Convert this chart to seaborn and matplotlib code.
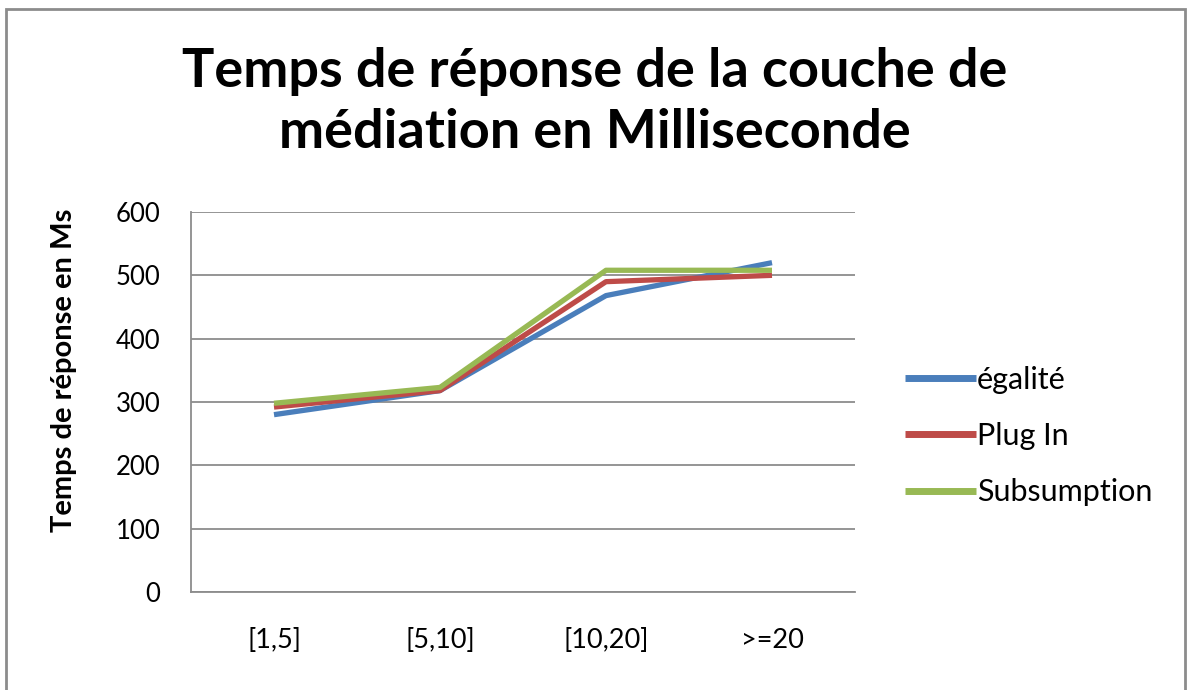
import matplotlib
matplotlib.use("Agg")
import matplotlib.pyplot as plt
from matplotlib.patches import Rectangle
import pandas as pd
import seaborn as sns

# Data
categories = ["[1,5]", "[5,10]", "[10,20]", ">=20"]
egalite = [280, 318, 468, 520]
plug_in = [292, 318, 490, 500]
subsumption = [298, 323, 508, 508]
series_names = ["égalité", "Plug In", "Subsumption"]
colors = ["#4A7EBB", "#BE4B48", "#98B954"]

rows = []
for name, vals in zip(series_names, [egalite, plug_in, subsumption]):
    for i, (cat, v) in enumerate(zip(categories, vals)):
        rows.append({"pos": i, "cat": cat, "value": v, "serie": name})
df = pd.DataFrame(rows)

sns.set_theme(style="white")
plt.rcParams["font.family"] = ["Lato", "DejaVu Sans"]
plt.rcParams["text.color"] = "black"
plt.rcParams["axes.labelcolor"] = "black"

W, H = 1187, 690
fig = plt.figure(figsize=(W / 100, H / 100), dpi=100)
fig.patch.set_facecolor("white")

# Plot area in pixel coordinates
left, right, top, bottom = 191, 855, 212, 592
ax = fig.add_axes([left / W, 1 - bottom / H, (right - left) / W, (bottom - top) / H])

sns.lineplot(data=df, x="pos", y="value", hue="serie", hue_order=series_names,
             palette=colors, linewidth=3.8, ax=ax, legend=True,
             solid_capstyle="butt")

ax.set_xlim(-0.5, len(categories) - 0.5)
ax.set_ylim(0, 600)
ax.set_yticks(range(0, 601, 100))
ax.set_xticks(range(len(categories)))
ax.set_xticklabels(categories)
ax.tick_params(axis="both", length=0, labelsize=18.5, colors="black")
ax.tick_params(axis="x", pad=26, labelsize=19.5)
ax.tick_params(axis="y", pad=22)

ax.grid(axis="y", color="#8C8C8C", linewidth=1.3)
ax.set_axisbelow(True)
for side in ["top", "right"]:
    ax.spines[side].set_visible(False)
for side in ["left", "bottom"]:
    ax.spines[side].set_color("#8C8C8C")
    ax.spines[side].set_linewidth(1.3)

ax.set_xlabel("")
ax.set_ylabel("Temps de réponse en Ms", fontsize=21, fontweight="bold", color="black")
ax.yaxis.set_label_coords(-0.172, 0.584)

# Legend to the right of the plot area
handles, labels = ax.get_legend_handles_labels()
for h in handles:
    h.set_linewidth(5)
leg = ax.legend(handles, labels, loc="center left", bbox_to_anchor=(890 / W, 1 - 436 / H),
                bbox_transform=fig.transFigure, frameon=False, fontsize=22,
                handlelength=2.3, handletextpad=0.05, labelspacing=0.93, borderpad=0)
for t in leg.get_texts():
    t.set_color("black")

# Title
fig.text(595 / W, 1 - 102 / H, "Temps de réponse de la couche de\nmédiation en Milliseconde",
         ha="center", va="center", fontsize=39, fontweight="bold", linespacing=1.32,
         color="black")

# Chart border
fig.add_artist(Rectangle((6 / W, -0.02), (1185 - 6) / W, (1 - 9 / H) + 0.02,
                         transform=fig.transFigure, fill=False,
                         edgecolor="#8C8C8C", linewidth=2))

fig.savefig("out.png", dpi=100)
